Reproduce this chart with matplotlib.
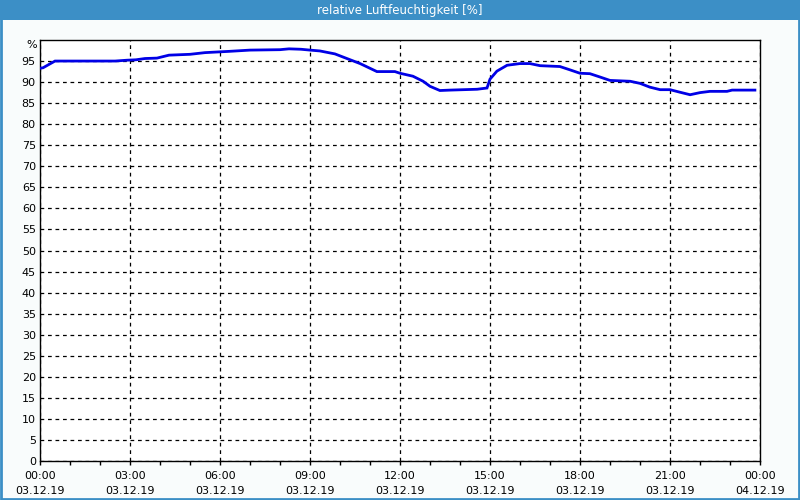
import matplotlib
matplotlib.use("Agg")
import matplotlib.pyplot as plt
from matplotlib.patches import Rectangle

# data: hours since 03.12.19 00:00, relative humidity [%]
hours = [0.0, 0.1, 0.5, 1.0, 2.5, 2.9, 3.2, 3.5, 3.9, 4.3, 5.0, 5.5, 6.3, 7.0,
         8.0, 8.3, 8.7, 9.0, 9.33, 9.83, 10.23, 10.67, 11.23, 11.83, 12.0,
         12.43, 12.77, 13.0, 13.33, 13.67, 14.57, 14.9, 15.0, 15.23, 15.57,
         16.0, 16.33, 16.67, 17.33, 17.67, 18.0, 18.33, 18.67, 19.0, 19.67,
         20.0, 20.33, 20.67, 21.0, 21.33, 21.67, 22.0, 22.33, 22.9, 23.07, 23.83]
humidity = [93.3, 93.4, 95.0, 95.0, 95.0, 95.2, 95.3, 95.6, 95.7, 96.4, 96.6, 97.0,
            97.3, 97.6, 97.7, 97.9, 97.8, 97.6, 97.4, 96.7, 95.6, 94.4, 92.5, 92.5,
            92.1, 91.4, 90.2, 89.0, 88.0, 88.1, 88.3, 88.6, 90.7, 92.6, 94.0,
            94.4, 94.4, 93.9, 93.7, 92.9, 92.1, 92.0, 91.2, 90.4, 90.2,
            89.7, 88.8, 88.2, 88.2, 87.6, 87.0, 87.5, 87.8, 87.8, 88.1, 88.1]

xtick_hours = [0, 3, 6, 9, 12, 15, 18, 21, 24]
xtick_labels = ["00:00\n03.12.19", "03:00\n03.12.19", "06:00\n03.12.19",
                "09:00\n03.12.19", "12:00\n03.12.19", "15:00\n03.12.19",
                "18:00\n03.12.19", "21:00\n03.12.19", "00:00\n04.12.19"]
ytick_values = list(range(0, 100, 5))
ytick_labels = [str(v) for v in ytick_values]
unit_label = "%"
title = "relative Luftfeuchtigkeit [%]"

plt.rcParams['font.family'] = ['DejaVu Sans']
fig = plt.figure(figsize=(8, 5), dpi=100)
fig.patch.set_facecolor("#f9fcfc")

# title bar and frame
fig.patches.append(Rectangle((0, 0.96), 1, 0.04, transform=fig.transFigure,
                             facecolor="#3c8fc6", edgecolor="none", zorder=0))
fig.patches.append(Rectangle((0.001, 0.002), 0.998, 0.996, transform=fig.transFigure,
                             facecolor="none", edgecolor="#3c8fc6", linewidth=2, zorder=0))
fig.text(0.5, 0.979, title, color="white", ha="center", va="center", fontsize=8.5)

ax = fig.add_axes([0.05, 0.078, 0.90, 0.842])
ax.set_facecolor("white")
ax.plot(hours, humidity, color="#0000e6", linewidth=2, solid_joinstyle="miter", zorder=3)

ax.set_xlim(0, 24)
ax.set_ylim(0, 100)
ax.set_xticks(xtick_hours)
ax.set_xticklabels(xtick_labels, fontsize=8, linespacing=1.6)
ax.set_xticks(range(0, 25), minor=True)
ax.set_yticks(ytick_values)
ax.set_yticklabels(ytick_labels, fontsize=8)
ax.text(-0.004, 1.0, unit_label, transform=ax.transAxes, ha="right", va="top",
        fontsize=8)

ax.tick_params(axis="x", which="both", direction="out", length=3, width=1, pad=4)
ax.tick_params(axis="y", length=0, pad=3)

ax.grid(True, which="major", color="black", linestyle=(0, (3, 3)), linewidth=0.9)
ax.set_axisbelow(True)
for s in ax.spines.values():
    s.set_color("black")
    s.set_linewidth(1)

fig.savefig("out.png", dpi=100, facecolor=fig.get_facecolor())
